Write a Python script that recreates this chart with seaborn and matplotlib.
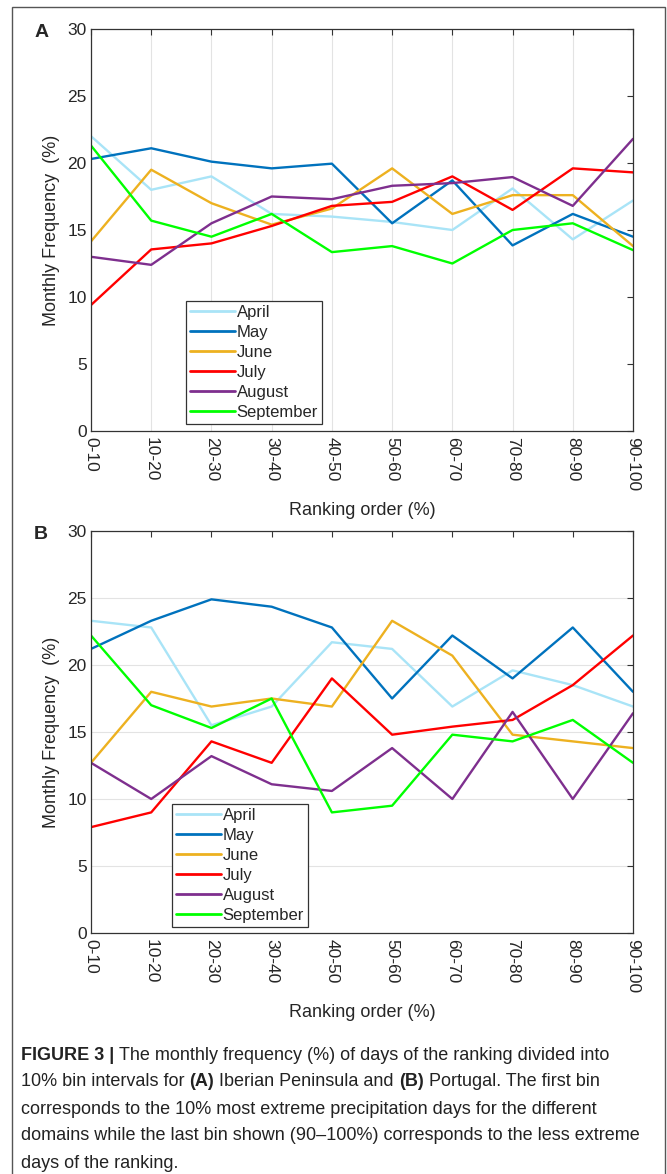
import numpy as np
import pandas as pd
import matplotlib
matplotlib.use("Agg")
import matplotlib.pyplot as plt
import seaborn as sns

# --- data ---
BINS = ["0-10", "10-20", "20-30", "30-40", "40-50",
        "50-60", "60-70", "70-80", "80-90", "90-100"]
MONTHS = ["April", "May", "June", "July", "August", "September"]

# (A) Iberian Peninsula
ip_april = [22.0, 18.0, 19.0, 16.2, 16.0, 15.6, 15.0, 18.1, 14.3, 17.2]
ip_may = [20.3, 21.1, 20.1, 19.6, 19.95, 15.5, 18.7, 13.85, 16.2, 14.5]
ip_june = [14.15, 19.5, 17.0, 15.4, 16.6, 19.6, 16.2, 17.6, 17.6, 13.8]
ip_july = [9.4, 13.55, 14.0, 15.3, 16.8, 17.1, 19.0, 16.5, 19.6, 19.3]
ip_august = [13.0, 12.4, 15.5, 17.5, 17.3, 18.3, 18.5, 18.95, 16.8, 21.8]
ip_september = [21.3, 15.7, 14.5, 16.2, 13.35, 13.8, 12.5, 15.0, 15.5, 13.5]

# (B) Portugal
pt_april = [23.3, 22.8, 15.5, 16.9, 21.7, 21.2, 16.9, 19.6, 18.5, 16.9]
pt_may = [21.2, 23.3, 24.9, 24.35, 22.8, 17.5, 22.2, 19.0, 22.8, 18.0]
pt_june = [12.7, 18.0, 16.9, 17.5, 16.9, 23.3, 20.7, 14.8, 14.3, 13.8]
pt_july = [7.9, 9.0, 14.3, 12.7, 19.0, 14.8, 15.4, 15.9, 18.5, 22.2]
pt_august = [12.7, 10.0, 13.2, 11.1, 10.6, 13.8, 10.0, 16.5, 10.0, 16.4]
pt_september = [22.2, 17.0, 15.3, 17.5, 9.0, 9.5, 14.8, 14.3, 15.9, 12.7]

PALETTE = {
    "April": "#a9e4f7",
    "May": "#0072bd",
    "June": "#edb120",
    "July": "#ff0000",
    "August": "#7e2f8e",
    "September": "#00ff00",
}


def to_long(series):
    rows = []
    for month, vals in zip(MONTHS, series):
        for i, v in enumerate(vals):
            rows.append({"bin": i, "month": month, "freq": v})
    return pd.DataFrame(rows)


df_a = to_long([ip_april, ip_may, ip_june, ip_july, ip_august, ip_september])
df_b = to_long([pt_april, pt_may, pt_june, pt_july, pt_august, pt_september])

sns.set_style("white")
plt.rcParams["font.family"] = ["Liberation Sans", "DejaVu Sans"]

fig = plt.figure(figsize=(6.67, 11.74), dpi=100)

# outer frame of the figure panel
fig.patches.append(plt.Rectangle((12 / 667, -0.01), 653 / 667, 1 - 7 / 1174 + 0.01,
                                 transform=fig.transFigure, fill=False,
                                 edgecolor="#555555", linewidth=1.0))


def draw_panel(ax, df, letter, vgrid, legend_xy):
    sns.lineplot(data=df, x="bin", y="freq", hue="month", hue_order=MONTHS,
                 palette=PALETTE, linewidth=1.7, ax=ax, legend=True)
    ax.set_xlim(0, 9)
    ax.set_ylim(0, 30)
    ax.set_xticks(range(len(BINS)))
    ax.set_xticklabels(BINS, rotation=-90, fontsize=12.5)
    ax.set_yticks(range(0, 31, 5))
    ax.tick_params(axis="both", labelsize=12.5, direction="in", length=4,
                   color="#333333", top=True, right=True, pad=3)
    ax.tick_params(axis="x", pad=4)
    for s in ax.spines.values():
        s.set_color("#333333")
        s.set_linewidth(0.9)
    if vgrid:
        ax.xaxis.grid(True, color="#e3e3e3", linewidth=0.8)
    else:
        ax.yaxis.grid(True, color="#e3e3e3", linewidth=0.8)
    ax.set_axisbelow(True)
    ax.set_xlabel("Ranking order (%)", fontsize=13, labelpad=8)
    ax.set_ylabel("Monthly Frequency  (%)", fontsize=13, labelpad=5)
    ax.text(-0.079, 0.992, letter, transform=ax.transAxes, fontsize=14,
            fontweight="bold", ha="right", va="center")
    leg = ax.legend(loc="lower left", bbox_to_anchor=legend_xy, fontsize=12,
                    handlelength=2.7, handletextpad=0.1, borderaxespad=0,
                    labelspacing=0.3, borderpad=0.25, fancybox=False,
                    framealpha=1, edgecolor="#333333", title=None)
    leg.get_frame().set_linewidth(0.9)
    for line in leg.get_lines():
        line.set_linewidth(2.0)


ax_a = fig.add_axes([91 / 667, 1 - 431 / 1174, 542 / 667, 402 / 1174])
draw_panel(ax_a, df_a, "A", True, (0.175, 0.017))

ax_b = fig.add_axes([91 / 667, 1 - 933 / 1174, 542 / 667, 402 / 1174])
draw_panel(ax_b, df_b, "B", False, (0.149, 0.015))

# caption
cap_x = 21 / 667
lines = [
    [("FIGURE 3 | ", "bold"), ("The monthly frequency (%) of days of the ranking divided into", "normal")],
    [("10% bin intervals for ", "normal"), ("(A)", "bold"), (" Iberian Peninsula and ", "normal"),
     ("(B)", "bold"), (" Portugal. The first bin", "normal")],
    [("corresponds to the 10% most extreme precipitation days for the different", "normal")],
    [("domains while the last bin shown (90\u2013100%) corresponds to the less extreme", "normal")],
    [("days of the ranking.", "normal")],
]
y0 = 1055
renderer = fig.canvas.get_renderer()
for k, parts in enumerate(lines):
    y = 1 - (y0 + k * 27.0) / 1174
    x = cap_x
    for txt, w in parts:
        t = fig.text(x, y, txt, fontsize=13, fontweight=w, color="#222222",
                     ha="left", va="center")
        bb = t.get_window_extent(renderer=renderer)
        x += bb.width / (667)

fig.savefig("out.png", dpi=100)
